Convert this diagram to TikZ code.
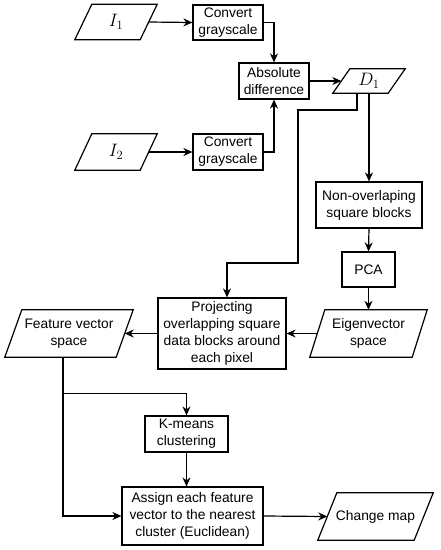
\RequirePackage{fix-cm}
\documentclass[tikz,border=0pt]{standalone}
\usepackage{fontspec}
\setmainfont{Liberation Sans}
\usepackage{tikz}
\usetikzlibrary{arrows.meta,calc,positioning}

\begin{document}
\begin{tikzpicture}[x=1pt,y=-1pt,
  every node/.style={font=\fontsize{13.8}{17}\selectfont,align=center,inner sep=1pt},
  box/.style={draw,line width=1.2pt},
  io/.style={},
  mathio/.style={font=\fontsize{18}{18}\selectfont},
  arr/.style={-{Stealth[length=9pt,width=8pt]},line width=1.2pt},
  ln/.style={line width=1.2pt}]
  \useasboundingbox (0,0) rectangle (440,550);
  % inputs and preprocessing
  \node[io,mathio,minimum width=65,minimum height=35] (i1) at (116,22) {$I_1$};
  \node[io,mathio,minimum width=65,minimum height=36] (i2) at (116,152) {$I_2$};
  \node[box,minimum width=70,minimum height=35] (cg1) at (228,22.5) {Convert\\grayscale};
  \node[box,minimum width=70,minimum height=36] (cg2) at (228,152) {Convert\\grayscale};
  \node[box,minimum width=70,minimum height=36] (absd) at (274,81) {Absolute\\difference};
  \node[io,mathio,minimum width=55,minimum height=24] (d1) at (369,81) {$D_1$};
  % PCA branch
  \node[box,minimum width=106,minimum height=46] (nonov) at (369,205) {Non-overlaping\\square blocks};
  \node[box,minimum width=53,minimum height=35] (pca) at (368.5,269.5) {PCA};
  \node[io,minimum width=102,minimum height=47] (eig) at (368.5,333.5) {Eigenvector\\space};
  \node[box,minimum width=128,minimum height=71] (proj) at (222,333.5) {Projecting\\overlapping square\\data blocks around\\each pixel};
  \node[io,minimum width=111,minimum height=47] (feat) at (69,333.5) {Feature vector\\space};
  % clustering
  \node[box,minimum width=83,minimum height=36] (km) at (186.5,434) {K-means\\clustering};
  \node[box,minimum width=141,minimum height=58] (asg) at (192.5,516) {Assign each feature\\vector to the nearest\\cluster (Euclidean)};
  \node[io,minimum width=96,minimum height=47] (cmap) at (375.5,516.5) {Change map};
  % parallelogram outlines: name/half offset
  \foreach \n/\s in {i1/8.5,i2/8.5,d1/8.5,eig/7.5,feat/8.5,cmap/9.5}{
    \draw[ln,line join=miter] ($(\n.south west)+(-\s,0)$) -- ($(\n.south east)+(-\s,0)$)
      -- ($(\n.north east)+(\s,0)$) -- ($(\n.north west)+(\s,0)$) -- cycle;}
  % connectors
  \draw[arr] (i1.east) -- (cg1.west);
  \draw[arr] (i2.east) -- (cg2.west);
  \draw[arr] (cg1.east) -| (absd.north);
  \draw[arr] (cg2.east) -| (absd.south);
  \draw[arr] (absd.east) -- (d1.west);
  \draw[arr] (d1.south) -- (nonov.north);
  \coordinate (dtap) at ($(d1.south)+(-12,0)$);
  \coordinate (projin) at ($(proj.north)+(5,0)$);
  \draw[arr] (dtap) |- (298,110) -- (298,263) -| (projin);
  \draw[arr] (nonov.south) -- (pca.north);
  \draw[arr] (pca.south) -- (eig.north);
  \draw[arr] (eig.west) -- (proj.east);
  \draw[arr] (proj.west) -- (feat.east);
  \coordinate (ftap) at ($(feat.south)+(-6,0)$);
  \coordinate (fbranch) at ($(ftap)+(0,36)$);
  \draw[arr] (ftap) |- (asg.west);
  \draw[arr] (fbranch) -| (km.north);
  \draw[arr] (km.south) -- (km.south |- asg.north);
  \draw[arr] (asg.east) -- (cmap.west);
\end{tikzpicture}
\end{document}
